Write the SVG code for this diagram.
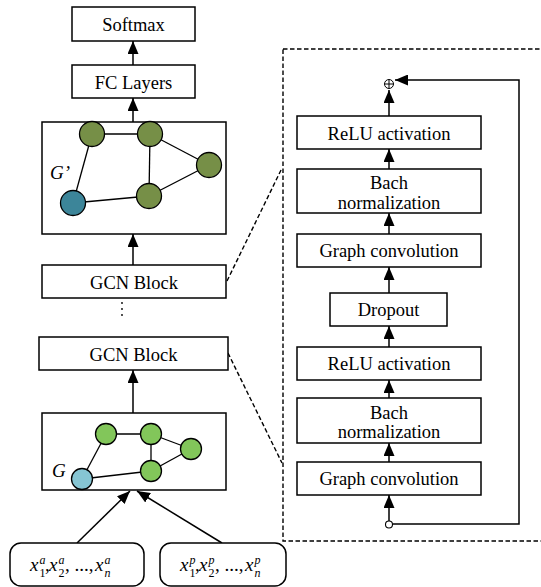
<svg xmlns="http://www.w3.org/2000/svg" width="541" height="587" viewBox="0 0 541 587">
  <defs>
    <marker id="arrow" markerUnits="userSpaceOnUse" markerWidth="13" markerHeight="11" refX="13" refY="5.5" orient="auto">
      <path d="M0,0 L13,5.5 L0,11 z" fill="#000"/>
    </marker>
    <style>
      .box { fill: #fff; stroke: #000; stroke-width: 1.5; }
      .lbl { font-family: "Liberation Serif", "Times New Roman", serif; font-size: 18.5px; fill: #000; text-anchor: middle; }
      .conn { stroke: #000; stroke-width: 1.5; fill: none; }
      .arr { stroke: #000; stroke-width: 1.5; fill: none; marker-end: url(#arrow); }
      .dash { stroke: #000; stroke-width: 1.4; fill: none; stroke-dasharray: 4.5 2.5; }
      .edge { stroke: #000; stroke-width: 1.3; }
      .n1 { fill: #768f47; stroke: #000; stroke-width: 1.3; }
      .b1 { fill: #3c8599; stroke: #000; stroke-width: 1.3; }
      .n2 { fill: #82c65a; stroke: #000; stroke-width: 1.3; }
      .b2 { fill: #86c5d3; stroke: #000; stroke-width: 1.3; }
      .it { font-family: "Liberation Serif", "Times New Roman", serif; font-style: italic; fill: #000; }
      .rm { font-family: "Liberation Serif", "Times New Roman", serif; fill: #000; }
    </style>
  </defs>

  <!-- dashed outline of the expanded GCN block -->
  <rect x="283" y="49" width="270" height="492" class="dash"/>

  <!-- connectors -->
  <g id="connectors">
    <line x1="133" y1="65" x2="133" y2="41" class="arr"/>
    <line x1="133" y1="122" x2="133" y2="98" class="arr"/>
    <line x1="133" y1="265" x2="133" y2="234" class="arr"/>
    <line x1="133" y1="413" x2="133" y2="370" class="arr"/>
    <line x1="77" y1="543" x2="130" y2="491" class="arr"/>
    <line x1="222" y1="543" x2="137" y2="491" class="arr"/>
    <!-- zoom guides -->
    <line x1="227" y1="281" x2="282" y2="168" class="dash"/>
    <line x1="228" y1="353" x2="282" y2="463" class="dash"/>
    <!-- inner chain -->
    <line x1="389" y1="521" x2="389" y2="495" class="arr"/>
    <line x1="389" y1="462" x2="389" y2="443" class="arr"/>
    <line x1="389" y1="398" x2="389" y2="380" class="arr"/>
    <line x1="389" y1="347" x2="389" y2="326" class="arr"/>
    <line x1="389" y1="293" x2="389" y2="267" class="arr"/>
    <line x1="389" y1="234" x2="389" y2="213" class="arr"/>
    <line x1="389" y1="169" x2="389" y2="149" class="arr"/>
    <line x1="389" y1="116" x2="389" y2="90" class="arr"/>
    <!-- skip connection -->
    <path d="M392.5,524 H519 V80 H395" class="arr"/>
  </g>

  <!-- left column -->
  <g id="softmax">
    <rect x="72" y="7" width="123" height="34" class="box"/>
    <text x="133.5" y="31" class="lbl">Softmax</text>
  </g>
  <g id="fc-layers">
    <rect x="72" y="65" width="123" height="33" class="box"/>
    <text x="133.5" y="88.5" class="lbl">FC Layers</text>
  </g>

  <g id="graph-out">
    <rect x="42" y="122" width="184" height="112" class="box"/>
    <line x1="92" y1="134" x2="150" y2="134" class="edge"/>
    <line x1="92" y1="134" x2="73" y2="203" class="edge"/>
    <line x1="150" y1="134" x2="149" y2="196" class="edge"/>
    <line x1="150" y1="134" x2="209" y2="165" class="edge"/>
    <line x1="209" y1="165" x2="149" y2="196" class="edge"/>
    <line x1="73" y1="203" x2="149" y2="196" class="edge"/>
    <circle cx="92" cy="134" r="12.5" class="n1"/>
    <circle cx="150" cy="134" r="12.5" class="n1"/>
    <circle cx="209" cy="165" r="12.5" class="n1"/>
    <circle cx="149" cy="196" r="12.5" class="n1"/>
    <circle cx="73" cy="203" r="12.5" class="b1"/>
    <text x="50" y="179" class="it" font-size="19" fill="#444">G’</text>
  </g>

  <g id="gcn-block-top">
    <rect x="42" y="265" width="184" height="33" class="box"/>
    <text x="134" y="288.5" class="lbl">GCN Block</text>
  </g>

  <g id="ellipsis">
    <circle cx="122" cy="303" r="0.9" fill="#000"/>
    <circle cx="122" cy="309" r="0.9" fill="#000"/>
    <circle cx="122" cy="315" r="0.9" fill="#000"/>
  </g>

  <g id="gcn-block-bottom">
    <rect x="39" y="337" width="189" height="33" class="box"/>
    <text x="133.5" y="360.5" class="lbl">GCN Block</text>
  </g>

  <g id="graph-in">
    <rect x="42" y="413" width="184" height="77" class="box"/>
    <line x1="106" y1="434" x2="151" y2="434" class="edge"/>
    <line x1="106" y1="434" x2="82" y2="479" class="edge"/>
    <line x1="151" y1="434" x2="151" y2="471" class="edge"/>
    <line x1="151" y1="434" x2="191" y2="449" class="edge"/>
    <line x1="191" y1="449" x2="151" y2="471" class="edge"/>
    <line x1="82" y1="479" x2="151" y2="471" class="edge"/>
    <circle cx="106" cy="434" r="10.5" class="n2"/>
    <circle cx="151" cy="434" r="10.5" class="n2"/>
    <circle cx="191" cy="449" r="10.5" class="n2"/>
    <circle cx="151" cy="471" r="10.5" class="n2"/>
    <circle cx="82" cy="479" r="10.5" class="b2"/>
    <text x="52" y="477" class="it" font-size="19" fill="#444">G</text>
  </g>

  <!-- input sequences -->
  <g id="input-a">
    <rect x="10" y="543" width="134" height="43" rx="11" class="box"/>
    <text class="it" font-size="19" x="30" y="571">x</text>
    <text class="it" font-size="12" x="39.5" y="564">a</text>
    <text class="rm" font-size="12" x="39.5" y="577">1</text>
    <text class="rm" font-size="19" x="45" y="571">,</text>
    <text class="it" font-size="19" x="49" y="571">x</text>
    <text class="it" font-size="12" x="58.5" y="564">a</text>
    <text class="rm" font-size="12" x="58.5" y="577">2</text>
    <text class="rm" font-size="19" x="65" y="571">, ...,</text>
    <text class="it" font-size="19" x="95" y="571">x</text>
    <text class="it" font-size="12" x="104.5" y="564">a</text>
    <text class="it" font-size="12" x="104.5" y="577">n</text>
  </g>
  <g id="input-p">
    <rect x="160" y="543" width="126" height="43" rx="11" class="box"/>
    <text class="it" font-size="19" x="180" y="571">x</text>
    <text class="it" font-size="12" x="189.5" y="564">p</text>
    <text class="rm" font-size="12" x="189.5" y="577">1</text>
    <text class="rm" font-size="19" x="195" y="571">,</text>
    <text class="it" font-size="19" x="199" y="571">x</text>
    <text class="it" font-size="12" x="208.5" y="564">p</text>
    <text class="rm" font-size="12" x="208.5" y="577">2</text>
    <text class="rm" font-size="19" x="215" y="571">, ...,</text>
    <text class="it" font-size="19" x="245" y="571">x</text>
    <text class="it" font-size="12" x="254.5" y="564">p</text>
    <text class="it" font-size="12" x="254.5" y="577">n</text>
  </g>

  <!-- expanded block -->
  <g id="add">
    <circle cx="389" cy="84" r="4.5" fill="#fff" stroke="#000" stroke-width="1"/>
    <line x1="384.5" y1="84" x2="393.5" y2="84" stroke="#000" stroke-width="1"/>
    <line x1="389" y1="79.5" x2="389" y2="88.5" stroke="#000" stroke-width="1"/>
  </g>
  <g id="relu-2">
    <rect x="297" y="116" width="184" height="33" class="box"/>
    <text x="389" y="139.5" class="lbl">ReLU activation</text>
  </g>
  <g id="bn-2">
    <rect x="297" y="169" width="184" height="44" class="box"/>
    <text x="389" y="189" class="lbl">Bach</text>
    <text x="389" y="208.5" class="lbl">normalization</text>
  </g>
  <g id="gconv-2">
    <rect x="297" y="234" width="184" height="33" class="box"/>
    <text x="389" y="257" class="lbl">Graph convolution</text>
  </g>
  <g id="dropout">
    <rect x="330" y="293" width="117" height="33" class="box"/>
    <text x="388.5" y="316" class="lbl">Dropout</text>
  </g>
  <g id="relu-1">
    <rect x="297" y="347" width="184" height="33" class="box"/>
    <text x="389" y="370" class="lbl">ReLU activation</text>
  </g>
  <g id="bn-1">
    <rect x="297" y="398" width="184" height="45" class="box"/>
    <text x="389" y="418.5" class="lbl">Bach</text>
    <text x="389" y="438" class="lbl">normalization</text>
  </g>
  <g id="gconv-1">
    <rect x="297" y="462" width="184" height="33" class="box"/>
    <text x="389" y="485" class="lbl">Graph convolution</text>
  </g>
  <g id="split">
    <circle cx="389" cy="524.5" r="3.5" fill="#fff" stroke="#000" stroke-width="1.1"/>
  </g>
</svg>
